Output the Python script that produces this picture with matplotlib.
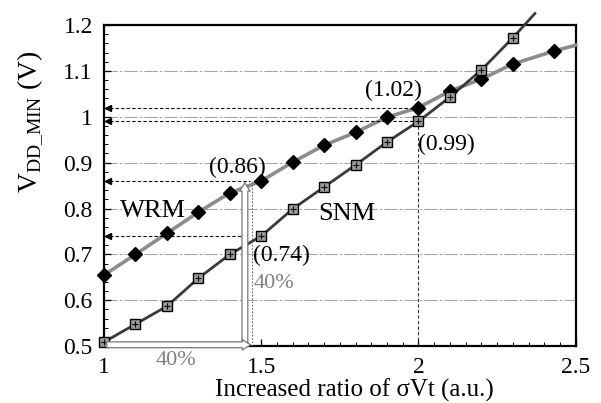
import numpy as np
import matplotlib
matplotlib.use('Agg')
import matplotlib.pyplot as plt
from matplotlib.patches import FancyArrowPatch
from matplotlib.ticker import MultipleLocator

plt.rcParams['font.family'] = ['Liberation Serif', 'DejaVu Serif']
plt.rcParams['mathtext.fontset'] = 'custom'
plt.rcParams['mathtext.rm'] = 'Liberation Serif'

# WRM (diamonds) and SNM (squares) minimum VDD vs. sigma-Vt ratio
wrm_x = [1.0, 1.1, 1.2, 1.3, 1.4, 1.5, 1.6, 1.7, 1.8, 1.9, 2.0, 2.1, 2.2, 2.3, 2.43]
wrm_y = [0.655, 0.70, 0.746, 0.792, 0.834, 0.86, 0.901, 0.938, 0.966, 0.999, 1.02, 1.056, 1.082, 1.115, 1.143]
wrm_tail = (2.5, 1.156)   # line runs on to the right edge

snm_x = [1.0, 1.1, 1.2, 1.3, 1.4, 1.5, 1.6, 1.7, 1.8, 1.9, 2.0, 2.1, 2.2, 2.3]
snm_y = [0.509, 0.548, 0.587, 0.648, 0.70, 0.74, 0.799, 0.847, 0.895, 0.945, 0.99, 1.043, 1.102, 1.172]
snm_tail = (2.37, 1.225)  # line leaves through the top

yticks = [0.5, 0.6, 0.7, 0.8, 0.9, 1.0, 1.1, 1.2]
ytick_labels = ['0.5', '0.6', '0.7', '0.8', '0.9', '1', '1.1', '1.2']
xticks = [1.0, 1.5, 2.0, 2.5]
xtick_labels = ['1', '1.5', '2', '2.5']

# levels marked with dashed arrows to the y axis: (level, x start)
arrow_levels = [(1.02, 2.0), (0.99, 2.0), (0.86, 1.465), (0.74, 1.44)]

fig = plt.figure(figsize=(6.01, 4.03), dpi=100)
ax = fig.add_axes([0.173, 0.141, 0.785, 0.797])

ax.set_xlim(1.0, 2.5)
ax.set_ylim(0.5, 1.2)

# grid
for g in yticks[1:-1]:
    ax.axhline(g, color='#a5a5a5', lw=0.8, ls=(0, (12, 2, 2, 2)), zorder=1)

# WRM curve
ax.plot(wrm_x + [wrm_tail[0]], wrm_y + [wrm_tail[1]], color='#8c8c8c', lw=2.6, zorder=3,
        clip_on=False)
ax.plot(wrm_x, wrm_y, ls='none', marker='D', ms=7.5, mfc='black', mec='black', zorder=5,
        clip_on=False)

# SNM curve
ax.plot(snm_x + [snm_tail[0]], snm_y + [snm_tail[1]], color='#3a3a3a', lw=2.0, zorder=3,
        clip_on=False)
ax.plot(snm_x, snm_y, ls='none', marker='s', ms=6.5, mfc='#9a9a9a', mec='black', mew=1.0,
        zorder=5, clip_on=False)
ax.plot(snm_x, snm_y, ls='none', marker='+', ms=5, mec='black', mew=0.8, zorder=6,
        clip_on=False)

# dashed arrows to the y axis
for lvl, x0 in arrow_levels:
    ax.plot([1.0, x0], [lvl, lvl], color='black', lw=0.8, ls=(0, (3, 2)), zorder=4)
    ax.plot([1.012], [lvl], marker='<', ms=4, color='black', zorder=4, clip_on=False)

# vertical guides
ax.plot([2.0, 2.0], [0.5, 0.99], color='#333333', lw=0.8, ls=(0, (3, 2)), zorder=4)
ax.plot([1.47, 1.47], [0.5, 0.86], color='#666666', lw=0.8, ls=(0, (1.5, 1.5)), zorder=4)

# hollow 40% arrows
up = FancyArrowPatch((1.448, 0.5), (1.448, 0.862),
                     arrowstyle='simple,head_width=0.75,head_length=0.6,tail_width=0.42',
                     mutation_scale=10, fc='white', ec='#777777', lw=0.9, zorder=6)
ax.add_patch(up)
right = FancyArrowPatch((1.0, 0.503), (1.475, 0.503),
                        arrowstyle='simple,head_width=0.75,head_length=0.6,tail_width=0.42',
                        mutation_scale=10, fc='white', ec='#777777', lw=0.9, zorder=6,
                        clip_on=False)
ax.add_patch(right)

# labels in the plot
ax.text(1.335, 0.867, '(0.86)', fontsize=17, ha='left', va='bottom', zorder=7)
ax.text(1.83, 1.035, '(1.02)', fontsize=17, ha='left', va='bottom', zorder=7)
ax.text(2.0, 0.962, '(0.99)', fontsize=17, ha='left', va='top', zorder=7)
ax.text(1.475, 0.72, '(0.74)', fontsize=17, ha='left', va='top', zorder=7)
ax.text(1.475, 0.657, '40%', fontsize=16, color='#808080', ha='left', va='top', zorder=7)
ax.text(1.05, 0.795, 'WRM', fontsize=19, ha='left', va='center', zorder=7)
ax.text(1.68, 0.787, 'SNM', fontsize=19, ha='left', va='center', zorder=7)
ax.text(1.23, 0.49, '40%', fontsize=16, color='#808080', ha='center', va='top',
        clip_on=False)

# axes styling
ax.set_xticks(xticks)
ax.set_xticklabels(xtick_labels, fontsize=17)
ax.set_yticks(yticks)
ax.set_yticklabels(ytick_labels, fontsize=17)
ax.xaxis.set_minor_locator(MultipleLocator(0.05))
ax.yaxis.set_minor_locator(MultipleLocator(0.02))
ax.tick_params(which='both', direction='in', top=False, right=False)
ax.tick_params(which='major', length=5, width=0.9, pad=8)
ax.tick_params(which='minor', length=3, width=0.7)
for s in ax.spines.values():
    s.set_linewidth(1.6)

ax.set_xlabel('Increased ratio of σVt (a.u.)', fontsize=18)
ax.xaxis.set_label_coords(0.53, -0.1)
ax.set_ylabel(r'V$_{\mathrm{DD\_MIN}}$ (V)', fontsize=20)
ax.yaxis.set_label_coords(-0.125, 0.70)

fig.savefig('out.png', dpi=100)
